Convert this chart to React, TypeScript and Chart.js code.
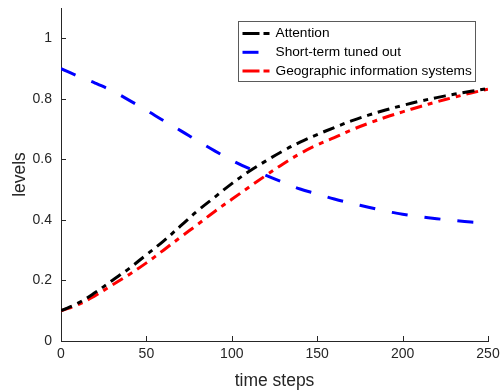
import React, { useEffect, useRef } from "react";
import { Chart, registerables } from "chart.js";

Chart.register(...registerables);

const timeSteps = [0, 10, 20, 30, 40, 50, 60, 70, 80, 90, 100, 110, 120, 130, 140, 150, 160, 170, 180, 190, 200, 210, 220, 230, 240, 250];
const attention = [0.10, 0.125, 0.16, 0.20, 0.24, 0.285, 0.33, 0.38, 0.43, 0.475, 0.52, 0.56, 0.595, 0.628, 0.657, 0.682, 0.705, 0.727, 0.746, 0.763, 0.778, 0.792, 0.804, 0.815, 0.825, 0.834];
const shortTermTunedOut = [0.90, 0.875, 0.852, 0.826, 0.795, 0.762, 0.728, 0.695, 0.661, 0.628, 0.597, 0.57, 0.547, 0.524, 0.502, 0.486, 0.469, 0.455, 0.442, 0.429, 0.419, 0.411, 0.404, 0.398, 0.393, 0.39];
const gis = [0.10, 0.12, 0.15, 0.185, 0.22, 0.258, 0.30, 0.343, 0.385, 0.428, 0.468, 0.508, 0.547, 0.585, 0.619, 0.648, 0.672, 0.697, 0.719, 0.739, 0.757, 0.774, 0.79, 0.805, 0.819, 0.832];
const seriesLabels = ["Attention", "Short-term tuned out", "Geographic information systems"];
const xTickValues = [0, 50, 100, 150, 200, 250];
const yTickValues = [0, 0.2, 0.4, 0.6, 0.8, 1];

const AXIS_COLOR = "#262626";
const FONT = "'Liberation Sans', Arial, Helvetica, sans-serif";

const inwardTicks = {
  id: "inwardTicks",
  afterDatasetsDraw(chart: any) {
    const { ctx, chartArea, scales } = chart;
    ctx.save();
    ctx.strokeStyle = AXIS_COLOR;
    ctx.lineWidth = 1;
    ctx.beginPath();
    scales.x.ticks.forEach((t: any) => {
      const px = Math.round(scales.x.getPixelForValue(t.value)) + 0.5;
      ctx.moveTo(px, chartArea.bottom);
      ctx.lineTo(px, chartArea.bottom - 5);
    });
    scales.y.ticks.forEach((t: any) => {
      const py = Math.round(scales.y.getPixelForValue(t.value)) + 0.5;
      ctx.moveTo(chartArea.left, py);
      ctx.lineTo(chartArea.left + 5, py);
    });
    ctx.stroke();
    ctx.restore();
  },
};

const boxLegend = {
  id: "boxLegend",
  afterDraw(chart: any) {
    const { ctx, chartArea } = chart;
    const w = 237;
    const h = 60;
    const x0 = Math.round(chartArea.right - 13 - w) + 0.5;
    const y0 = Math.round(chartArea.top + 13) + 0.5;
    ctx.save();
    ctx.fillStyle = "#ffffff";
    ctx.fillRect(x0, y0, w, h);
    ctx.strokeStyle = "#5a5a5a";
    ctx.lineWidth = 1;
    ctx.strokeRect(x0, y0, w, h);
    ctx.font = `13.7px ${FONT}`;
    ctx.textBaseline = "middle";
    ctx.textAlign = "left";
    chart.data.datasets.forEach((ds: any, i: number) => {
      const cy = y0 + 12 + i * 18.8;
      ctx.beginPath();
      ctx.strokeStyle = ds.borderColor;
      ctx.lineWidth = ds.borderWidth;
      ctx.setLineDash(ds.legendDash);
      ctx.moveTo(x0 + 4, cy);
      ctx.lineTo(x0 + 31, cy);
      ctx.stroke();
      ctx.setLineDash([]);
      ctx.fillStyle = "#000000";
      ctx.fillText(ds.label, x0 + 37, cy);
    });
    ctx.restore();
  },
};

function toPoints(values: number[]) {
  return timeSteps.map((t, i) => ({ x: t, y: values[i] }));
}

export default function App() {
  const canvasRef = useRef<HTMLCanvasElement | null>(null);

  useEffect(() => {
    const canvas = canvasRef.current;
    if (!canvas) return;
    const chart = new Chart(canvas, {
      type: "line",
      data: {
        datasets: [
          {
            label: seriesLabels[0],
            data: toPoints(attention),
            borderColor: "#000000",
            borderWidth: 3,
            borderDash: [12, 6, 5, 6],
            legendDash: [17, 4, 6, 4],
            pointRadius: 0,
            tension: 0.4,
            fill: false,
          } as any,
          {
            label: seriesLabels[1],
            data: toPoints(shortTermTunedOut),
            borderColor: "#0000ff",
            borderWidth: 3,
            borderDash: [16, 17],
            legendDash: [16, 20],
            pointRadius: 0,
            tension: 0.4,
            fill: false,
          } as any,
          {
            label: seriesLabels[2],
            data: toPoints(gis),
            borderColor: "#ff0000",
            borderWidth: 3,
            borderDash: [12, 6, 5, 6],
            legendDash: [17, 4, 6, 4],
            pointRadius: 0,
            tension: 0.4,
            fill: false,
          } as any,
        ],
      },
      options: {
        animation: false,
        responsive: false,
        maintainAspectRatio: false,
        layout: { padding: { left: 0, right: 13, top: 8, bottom: 0 } },
        plugins: {
          legend: { display: false },
          tooltip: { enabled: false },
        },
        scales: {
          x: {
            type: "linear",
            min: 0,
            max: 250,
            afterBuildTicks: (scale: any) => {
              scale.ticks = xTickValues.map((v) => ({ value: v }));
            },
            afterFit: (scale: any) => {
              scale.height = 51;
              scale.paddingLeft = 0;
              scale.paddingRight = 0;
            },
            grid: { display: true, drawOnChartArea: false, drawTicks: false },
            border: { display: true, color: AXIS_COLOR, width: 1 },
            ticks: {
              color: AXIS_COLOR,
              font: { family: FONT, size: 14 },
              padding: 5,
              maxRotation: 0,
              autoSkip: false,
              callback: (v: any) => String(v),
            },
            title: {
              display: true,
              text: "time steps",
              color: AXIS_COLOR,
              font: { family: FONT, size: 17.5 },
              padding: { top: 0, bottom: 0 },
            },
          },
          y: {
            type: "linear",
            min: 0,
            max: 1.1,
            afterBuildTicks: (scale: any) => {
              scale.ticks = yTickValues.map((v) => ({ value: v }));
            },
            afterFit: (scale: any) => {
              scale.width = 61;
              scale.paddingTop = 0;
              scale.paddingBottom = 0;
            },
            grid: { display: true, drawOnChartArea: false, drawTicks: false },
            border: { display: true, color: AXIS_COLOR, width: 1 },
            ticks: {
              color: AXIS_COLOR,
              font: { family: FONT, size: 14 },
              padding: 9,
              autoSkip: false,
              callback: (v: any) => String(v),
            },
            title: {
              display: true,
              text: "levels",
              color: AXIS_COLOR,
              font: { family: FONT, size: 17.5 },
              padding: { top: 10, bottom: 0 },
            },
          },
        },
      },
      plugins: [inwardTicks, boxLegend],
    });
    return () => chart.destroy();
  }, []);

  return (
    <div style={{ position: "absolute", left: 0, top: 0, width: 501, height: 392, background: "#ffffff" }}>
      <canvas ref={canvasRef} width={501} height={392} style={{ display: "block" }} />
    </div>
  );
}
